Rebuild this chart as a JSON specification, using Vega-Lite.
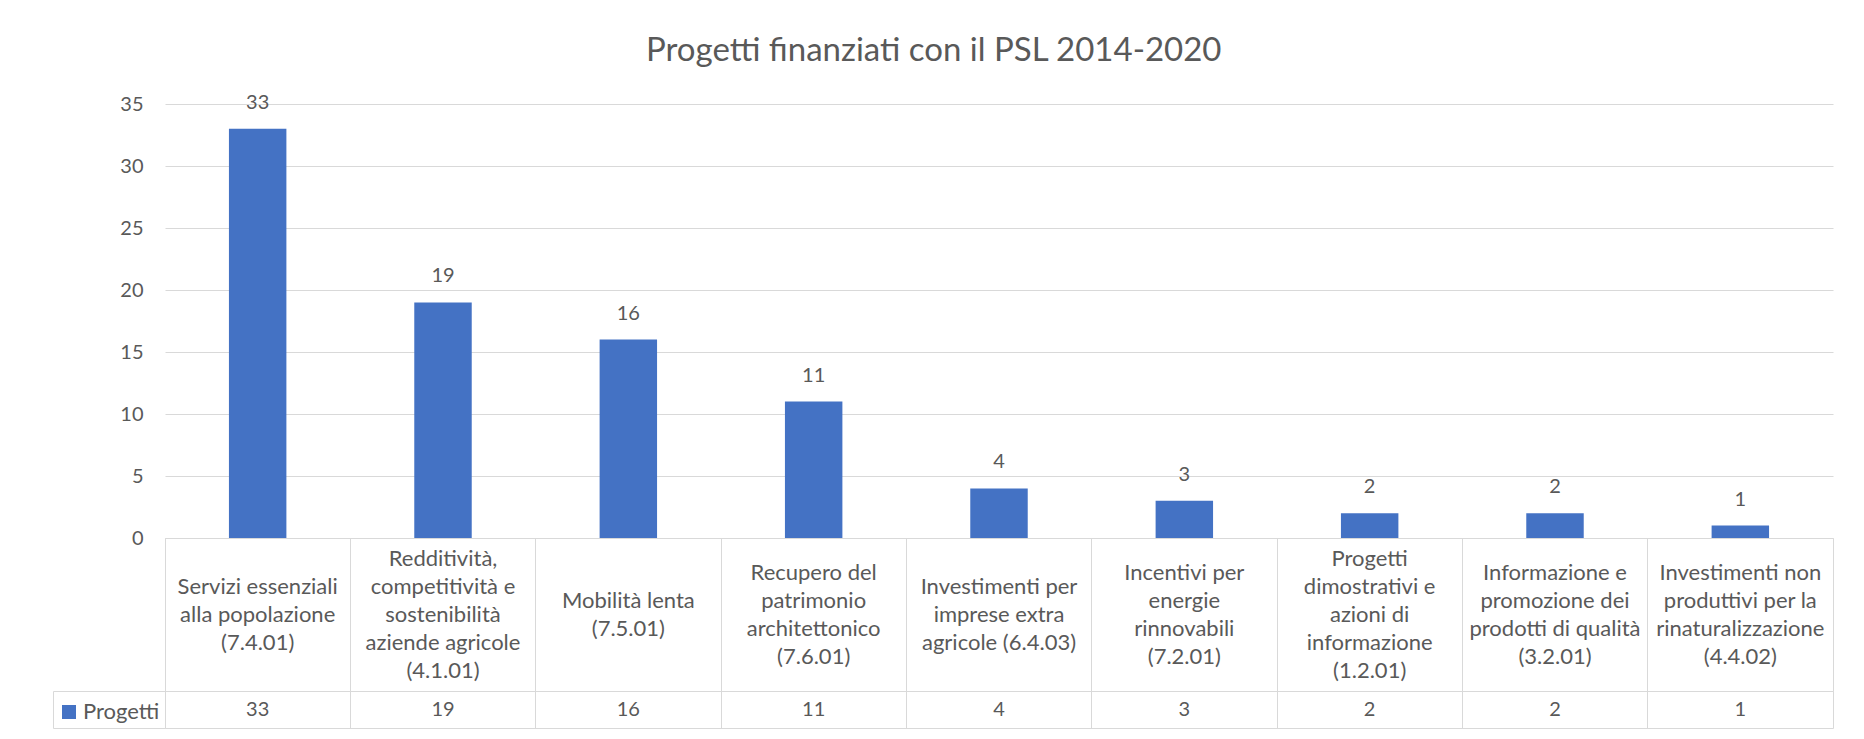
{
  "$schema": "https://vega.github.io/schema/vega-lite/v6.json",
  "padding": {"left": 52, "top": 34, "right": 33, "bottom": 10},
  "background": "white",
  "title": {"text": "Progetti finanziati con il PSL 2014-2020", "fontSize": 33, "fontWeight": "normal", "color": "#595959", "anchor": "middle", "offset": 25, "dx": -9},
  "data": {"values": [
    {"cod": "7.4.01", "label": "Servizi essenziali\nalla popolazione\n(7.4.01)", "n": 33, "series": "Progetti"},
    {"cod": "4.1.01", "label": "Redditività,\ncompetitività e\nsostenibilità\naziende agricole\n(4.1.01)", "n": 19, "series": "Progetti"},
    {"cod": "7.5.01", "label": "Mobilità lenta\n(7.5.01)", "n": 16, "series": "Progetti"},
    {"cod": "7.6.01", "label": "Recupero del\npatrimonio\narchitettonico\n(7.6.01)", "n": 11, "series": "Progetti"},
    {"cod": "6.4.03", "label": "Investimenti per\nimprese extra\nagricole (6.4.03)", "n": 4, "series": "Progetti"},
    {"cod": "7.2.01", "label": "Incentivi per\nenergie\nrinnovabili\n(7.2.01)", "n": 3, "series": "Progetti"},
    {"cod": "1.2.01", "label": "Progetti\ndimostrativi e\nazioni di\ninformazione\n(1.2.01)", "n": 2, "series": "Progetti"},
    {"cod": "3.2.01", "label": "Informazione e\npromozione dei\nprodotti di qualità\n(3.2.01)", "n": 2, "series": "Progetti"},
    {"cod": "4.4.02", "label": "Investimenti non\nproduttivi per la\nrinaturalizzazione\n(4.4.02)", "n": 1, "series": "Progetti"}
  ]},
  "spacing": 0,
  "bounds": "flush",
  "vconcat": [
    {
      "width": 1668,
      "height": 434,
      "view": {"stroke": null},
      "encoding": {
        "x": {"field": "cod", "type": "nominal", "sort": null, "scale": {"type": "band", "paddingInner": 0.69, "paddingOuter": 0.345}, "axis": null}
      },
      "layer": [
        {
          "mark": {"type": "bar"},
          "encoding": {
            "y": {"field": "n", "type": "quantitative", "scale": {"domain": [0, 35], "nice": false},
              "axis": {"values": [0, 5, 10, 15, 20, 25, 30, 35], "grid": true, "gridColor": "#D9D9D9", "domain": false, "ticks": false, "labelFontSize": 20, "labelColor": "#595959", "labelPadding": 22, "title": null}},
            "color": {"field": "series", "type": "nominal", "scale": {"range": ["#4472C4"]},
              "legend": {"orient": "none", "legendX": -107, "legendY": 597, "title": null, "symbolType": "square", "symbolSize": 196, "symbolStrokeWidth": 0, "labelFontSize": 22, "labelColor": "#595959", "labelOffset": 3, "padding": 0}}
          }
        },
        {
          "mark": {"type": "text", "dy": -26, "fontSize": 20, "color": "#595959"},
          "encoding": {
            "y": {"field": "n", "type": "quantitative"},
            "text": {"field": "n", "type": "quantitative"}
          }
        }
      ]
    },
    {
      "width": 1668,
      "height": 153,
      "view": {"stroke": "#D9D9D9"},
      "encoding": {
        "x": {"field": "cod", "type": "nominal", "sort": null,
          "scale": {"type": "band", "paddingInner": 0, "paddingOuter": 0, "domain": ["7.4.01", "4.1.01", "7.5.01", "7.6.01", "6.4.03", "7.2.01", "1.2.01", "3.2.01", "4.4.02"]},
          "axis": {"orient": "bottom", "labels": false, "ticks": false, "domain": false, "grid": true, "gridColor": "#D9D9D9", "bandPosition": 0, "title": null}},
        "text": {"field": "label", "type": "nominal"}
      },
      "layer": [
        {"transform": [{"filter": "length(split(datum.label, '\\n')) == 2"}],
         "mark": {"type": "text", "lineBreak": "\n", "fontSize": 22, "lineHeight": 28, "color": "#595959", "baseline": "middle", "dy": -14}},
        {"transform": [{"filter": "length(split(datum.label, '\\n')) == 3"}],
         "mark": {"type": "text", "lineBreak": "\n", "fontSize": 22, "lineHeight": 28, "color": "#595959", "baseline": "middle", "dy": -28}},
        {"transform": [{"filter": "length(split(datum.label, '\\n')) == 4"}],
         "mark": {"type": "text", "lineBreak": "\n", "fontSize": 22, "lineHeight": 28, "color": "#595959", "baseline": "middle", "dy": -42}},
        {"transform": [{"filter": "length(split(datum.label, '\\n')) == 5"}],
         "mark": {"type": "text", "lineBreak": "\n", "fontSize": 22, "lineHeight": 28, "color": "#595959", "baseline": "middle", "dy": -56}}
      ]
    },
    {
      "width": 1668,
      "height": 37,
      "view": {"stroke": "#D9D9D9"},
      "mark": {"type": "text", "fontSize": 20, "color": "#595959"},
      "encoding": {
        "x": {"field": "cod", "type": "nominal", "sort": null, "scale": {"type": "band", "paddingInner": 0, "paddingOuter": 0},
          "axis": {"orient": "bottom", "labels": false, "ticks": false, "domain": false, "grid": true, "gridColor": "#D9D9D9", "bandPosition": 0, "title": null}},
        "y": {"field": "series", "type": "nominal", "scale": {"type": "band", "paddingInner": 0, "paddingOuter": 0},
          "axis": {"orient": "left", "offset": 112, "labels": false, "domain": true, "domainColor": "#D9D9D9", "ticks": true, "tickSize": -112, "tickColor": "#D9D9D9", "tickBand": "extent", "title": null, "grid": false}},
        "text": {"field": "n", "type": "quantitative"}
      }
    }
  ],
  "config": {
    "font": "Lato",
    "axis": {"labelFont": "Lato"},
    "legend": {"labelFont": "Lato"}
  }
}
